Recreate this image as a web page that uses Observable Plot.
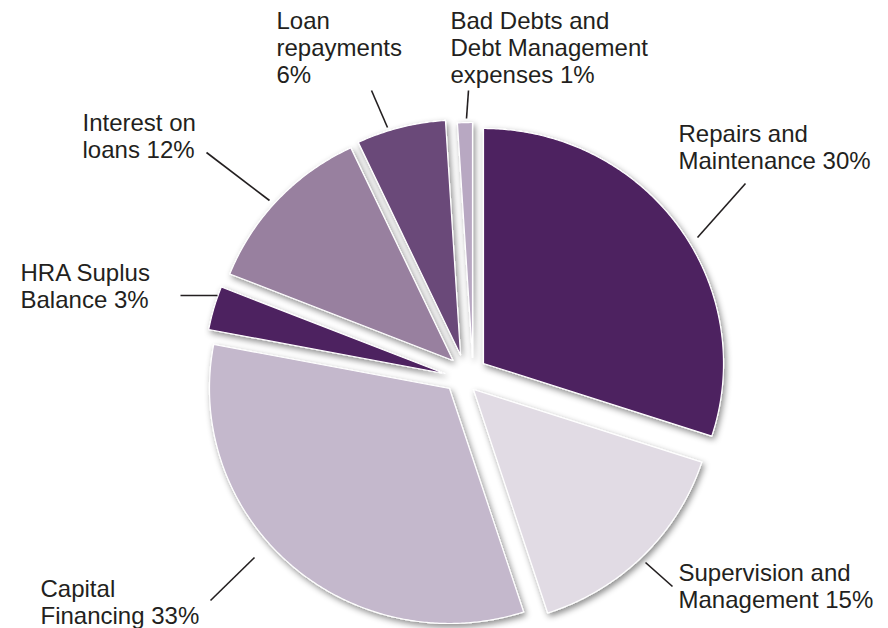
<!DOCTYPE html>
<html>
<head>
<meta charset="utf-8">
<script src="https://cdn.jsdelivr.net/npm/d3@7"></script>
<script src="https://cdn.jsdelivr.net/npm/@observablehq/plot@0.6"></script>
<style>
  html, body { margin: 0; padding: 0; background: #fff; }
  #chart { width: 888px; height: 628px; }
</style>
</head>
<body>
<svg width="0" height="0" style="position:absolute">
  <defs>
    <filter id="pieShadow" x="-20%" y="-20%" width="140%" height="140%">
      <feDropShadow dx="2" dy="3" stdDeviation="3" flood-color="#000" flood-opacity="0.45"/>
    </filter>
  </defs>
</svg>
<div id="chart"></div>
<script>
// ---- data ----
const categories = [
  "Repairs and Maintenance",
  "Supervision and Management",
  "Capital Financing",
  "HRA Suplus Balance",
  "Interest on loans",
  "Loan repayments",
  "Bad Debts and Debt Management expenses"
];
const values = [30, 15, 33, 3, 12, 6, 1];
const labelTexts = [
  "Repairs and\nMaintenance 30%",
  "Supervision and\nManagement 15%",
  "Capital\nFinancing 33%",
  "HRA Suplus\nBalance 3%",
  "Interest on\nloans 12%",
  "Loan\nrepayments\n6%",
  "Bad Debts and\nDebt Management\nexpenses 1%"
];
const colors = ["#4e2060", "#e1dbe4", "#c4b8cc", "#4e2060", "#98809f", "#6a4879", "#b8a8c2"];

// ---- layout (pixel space) ----
const W = 888, H = 628;
const center = [465, 375];
const radiusX = 240, radiusY = 235;
// per-slice explosion offsets (layout)
const explodeOffsets = [[18, -12], [8, 14], [-16, 13], [-21, -2], [-12.5, -15], [-5, -20.5], [7, -18]];
const labelPos = [[678, 122], [678, 561], [40, 577], [20, 261], [82, 111], [276, 9], [450, 9]];
const leaderLines = [
  [[745, 183], [697, 237]],
  [[645, 562], [672, 586]],
  [[210, 600], [254, 557]],
  [[180, 295], [217, 295]],
  [[206, 152], [269, 200]],
  [[371, 90], [387, 127]],
  [[468, 90], [466, 118]]
];

// ---- slice geometry from values ----
const total = d3.sum(values);
const dir = (deg) => [Math.sin(deg * Math.PI / 180), -Math.cos(deg * Math.PI / 180)];
const slicePts = [];
let acc = 0;
categories.forEach((name, i) => {
  const a0 = acc / total * 360;
  acc += values[i];
  const a1 = acc / total * 360;
  const ax = center[0] + explodeOffsets[i][0], ay = center[1] + explodeOffsets[i][1];
  slicePts.push({name, color: colors[i], x: ax, y: ay});
  const n = Math.max(2, Math.ceil((a1 - a0) / 0.5));
  for (let k = 0; k <= n; k++) {
    const a = a0 + (a1 - a0) * k / n;
    const [dx, dy] = dir(a);
    slicePts.push({name, color: colors[i], x: ax + radiusX * dx, y: ay + radiusY * dy});
  }
});

const labels = labelTexts.map((t, i) => ({text: t, x: labelPos[i][0], y: labelPos[i][1]}));
const leaders = leaderLines.map((l) => ({x1: l[0][0], y1: l[0][1], x2: l[1][0], y2: l[1][1]}));

const plot = Plot.plot({
  width: W,
  height: H,
  margin: 0,
  x: {domain: [0, W], range: [0, W], axis: null},
  y: {domain: [0, H], range: [0, H], axis: null},
  style: {fontFamily: "'Liberation Sans', Arial, Helvetica, sans-serif", background: "#fff"},
  marks: [
    Plot.line(slicePts, {
      x: "x", y: "y", z: "name",
      fill: "color", stroke: "#ffffff", strokeWidth: 1.2,
      curve: "linear-closed"
    }),
    Plot.link(leaders, {x1: "x1", y1: "y1", x2: "x2", y2: "y2", stroke: "#231f20", strokeWidth: 1.6}),
    Plot.text(labels, {
      x: "x", y: "y", text: "text",
      textAnchor: "start", lineAnchor: "top", lineHeight: 1.125,
      fontSize: 24, fill: "#231f20"
    })
  ]
});
d3.select(plot).select('g[aria-label="line"]').attr("filter", "url(#pieShadow)");
document.getElementById("chart").appendChild(plot);
</script>
</body>
</html>
